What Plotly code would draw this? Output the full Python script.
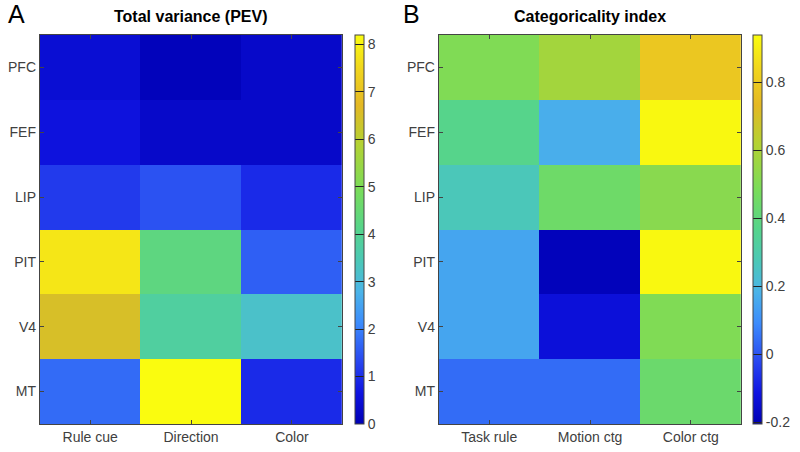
import plotly.graph_objects as go

areas = ["PFC", "FEF", "LIP", "PIT", "V4", "MT"]
cols_a = ["Rule cue", "Direction", "Color"]
cols_b = ["Task rule", "Motion ctg", "Color ctg"]

pev = [
    [0.45, 0.1, 0.3],
    [0.6, 0.3, 0.3],
    [1.15, 1.45, 0.95],
    [7.8, 4.3, 1.6],
    [6.5, 3.8, 3.2],
    [1.75, 8.25, 0.95],
]
cat_idx = [
    [0.50, 0.58, 0.79],
    [0.37, 0.17, 0.93],
    [0.27, 0.45, 0.52],
    [0.15, -0.19, 0.93],
    [0.15, -0.13, 0.50],
    [0.04, 0.04, 0.44],
]

cbar_a_ticks = [0, 1, 2, 3, 4, 5, 6, 7, 8]
cbar_b_ticks = [-0.2, 0, 0.2, 0.4, 0.6, 0.8]
cbar_b_labels = ["-0.2", "0", "0.2", "0.4", "0.6", "0.8"]

cscale = [
    [0.00, "rgb(0,0,180)"],
    [0.08, "rgb(15,20,225)"],
    [0.16, "rgb(40,70,240)"],
    [0.26, "rgb(60,140,252)"],
    [0.34, "rgb(75,180,232)"],
    [0.42, "rgb(75,200,182)"],
    [0.50, "rgb(85,212,140)"],
    [0.60, "rgb(120,220,90)"],
    [0.72, "rgb(180,210,50)"],
    [0.82, "rgb(228,184,36)"],
    [0.91, "rgb(240,212,30)"],
    [1.00, "rgb(250,252,15)"],
]

H = 452.0
W = 800.0
y0 = 1 - 424 / H
y1 = 1 - 35 / H
font = dict(family="Liberation Sans, Arial, sans-serif", size=14, color="#404040")
cbfont = dict(family="Liberation Sans, Arial, sans-serif", size=14, color="#404040")

fig = go.Figure()
fig.add_trace(go.Heatmap(
    z=pev, x=cols_a, y=areas, colorscale=cscale, zmin=0, zmax=8.2,
    xaxis="x", yaxis="y",
    colorbar=dict(x=357 / W, xanchor="left", xref="paper", y=y0, yanchor="bottom",
                  len=y1 - y0, lenmode="fraction", thickness=9, xpad=0, ypad=0,
                  outlinewidth=1, outlinecolor="#444", tickvals=cbar_a_ticks,
                  ticks="inside", ticklen=9, tickcolor="#222", tickfont=cbfont),
))
fig.add_trace(go.Heatmap(
    z=cat_idx, x=cols_b, y=areas, colorscale=cscale, zmin=-0.205, zmax=0.94,
    xaxis="x2", yaxis="y2",
    colorbar=dict(x=757 / W, xanchor="left", xref="paper", y=y0, yanchor="bottom",
                  len=y1 - y0, lenmode="fraction", thickness=9, xpad=0, ypad=0,
                  outlinewidth=1, outlinecolor="#444", tickvals=cbar_b_ticks,
                  ticktext=cbar_b_labels,
                  ticks="inside", ticklen=9, tickcolor="#222", tickfont=cbfont),
))

ax_common = dict(showline=True, linecolor="#444", linewidth=1, mirror="ticks",
                 ticks="inside", ticklen=4, tickcolor="#444", tickfont=font,
                 showgrid=False, zeroline=False)
fig.update_layout(
    width=800, height=452, margin=dict(l=0, r=0, t=0, b=0),
    paper_bgcolor="white", plot_bgcolor="white", font=font, showlegend=False,
    xaxis=dict(domain=[40 / W, 344 / W], anchor="y", **ax_common),
    yaxis=dict(domain=[y0, y1], anchor="x", autorange="reversed", **ax_common),
    xaxis2=dict(domain=[441 / W, 745 / W], anchor="y2", **ax_common),
    yaxis2=dict(domain=[y0, y1], anchor="x2", autorange="reversed", **ax_common),
    annotations=[
        dict(text="<b>Total variance (PEV)</b>", x=192 / W, y=1 - 16 / H, xref="paper", yref="paper",
             xanchor="center", yanchor="middle",
             showarrow=False, font=dict(family="Liberation Sans, Arial", size=16, color="black")),
        dict(text="<b>Categoricality index</b>", x=593 / W, y=1 - 16 / H, xref="paper", yref="paper",
             xanchor="center", yanchor="middle",
             showarrow=False, font=dict(family="Liberation Sans, Arial", size=16, color="black")),
        dict(text="A", x=6 / W, y=1 - 14 / H, xref="paper", yref="paper", xanchor="left",
             yanchor="middle",
             showarrow=False, font=dict(family="Liberation Sans, Arial", size=25, color="black")),
        dict(text="B", x=403 / W, y=1 - 14 / H, xref="paper", yref="paper", xanchor="left",
             yanchor="middle",
             showarrow=False, font=dict(family="Liberation Sans, Arial", size=25, color="black")),
    ],
)
fig.write_html("out.html", config={"displayModeBar": False},
               post_script="document.body.style.margin='0px';")
